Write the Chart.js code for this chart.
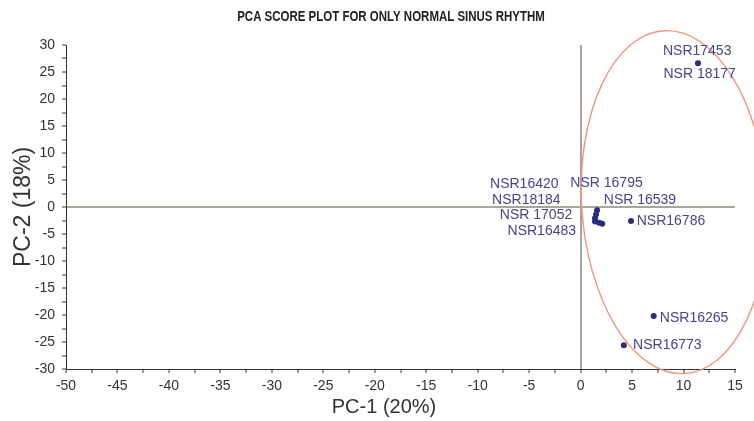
<!DOCTYPE html>
<html>
<head>
<meta charset="utf-8">
<title>PCA score plot</title>
<script src="https://cdn.jsdelivr.net/npm/chart.js@4/dist/chart.umd.min.js"></script>
<style>
    html, body { margin: 0; padding: 0; background: #fff; }
    #pca { display: block; }
</style>
</head>
<body>
<canvas id="pca" width="754" height="421"></canvas>
<script>
/* PCA score plot — normal sinus rhythm records only */

// scores (PC-1, PC-2)
var pc1 = [11.4, 1.6, 1.5, 1.4, 1.4, 1.8, 2.1, 4.9, 7.1, 4.2];
var pc2 = [26.6, -0.6, -1.4, -2.1, -2.7, -2.9, -3.1, -2.6, -20.2, -25.6];

// record labels and where their text starts (data units)
var labelText = ['NSR17453', 'NSR 18177', 'NSR 16795', 'NSR 16539', 'NSR16420',
    'NSR18184', 'NSR 17052', 'NSR16483', 'NSR16786', 'NSR16265', 'NSR16773'];
var labelX = [8.0, 8.05, -1.0, 2.25, -8.8, -8.6, -7.85, -7.1, 5.45, 7.7, 5.1];
var labelY = [28.8, 24.6, 4.5, 1.35, 4.2, 1.35, -1.6, -4.5, -2.6, -20.6, -25.6];

// axis ranges
var xRange = [-50, 15];
var yRange = [-30, 30];

// cluster ellipse: centre, semi-axes (data units), tilt
var ring = { cx: 9.1, cy: 0.9, rx: 9.0, ry: 31.8, tilt: -0.06 };

var FONT = '"Liberation Sans", Arial, sans-serif';
var ink = '#333';

var points = pc1.map(function (x, i) { return { x: x, y: pc2[i] }; });

/* ellipse + point labels + titles, drawn on top without chart-area clipping */
var overlay = {
    id: 'overlay',
    afterDraw: function (chart) {
        var ctx = chart.ctx, xs = chart.scales.x, ys = chart.scales.y;
        ctx.save();

        // ellipse around the group
        var px = xs.getPixelForValue(ring.cx), py = ys.getPixelForValue(ring.cy);
        var rx = Math.abs(xs.getPixelForValue(ring.cx + ring.rx) - px);
        var ry = Math.abs(ys.getPixelForValue(ring.cy + ring.ry) - py);
        ctx.beginPath();
        ctx.ellipse(px, py, rx, ry, ring.tilt, 0, Math.PI * 2);
        ctx.strokeStyle = '#f0957f';
        ctx.lineWidth = 1.4;
        ctx.stroke();

        // record labels
        ctx.fillStyle = '#45458f';
        ctx.font = '14px ' + FONT;
        ctx.textAlign = 'left';
        ctx.textBaseline = 'middle';
        labelText.forEach(function (t, i) {
            ctx.fillText(t, xs.getPixelForValue(labelX[i]), ys.getPixelForValue(labelY[i]));
        });

        // main title (condensed, like the original) and x-axis title
        ctx.fillStyle = '#222';
        ctx.textAlign = 'center';
        ctx.font = 'bold 14px ' + FONT;
        ctx.save();
        ctx.translate(391, 17);
        ctx.scale(0.82, 1);
        ctx.fillText('PCA SCORE PLOT FOR ONLY NORMAL SINUS RHYTHM', 0, 0);
        ctx.restore();
        ctx.fillStyle = ink;
        ctx.font = '20px ' + FONT;
        ctx.fillText('PC-1 (20%)', 384, 407);

        ctx.restore();
    }
};

function zeroLine(c) {
    return c.tick && c.tick.value === 0 ? '#aaa49b' : 'rgba(0,0,0,0)';
}
function majorOnly(v) {
    return v % 5 === 0 ? v : '';
}

new Chart(document.getElementById('pca').getContext('2d'), {
    type: 'scatter',
    data: {
        datasets: [{
            data: points,
            backgroundColor: '#2b2b7e',
            borderWidth: 0,
            pointRadius: 3,
            pointHoverRadius: 3
        }]
    },
    options: {
        responsive: false,
        animation: false,
        events: [],
        layout: { padding: { top: 45, right: 19, left: 0, bottom: 0 } },
        plugins: { legend: { display: false }, tooltip: { enabled: false }, title: { display: false } },
        scales: {
            x: {
                min: xRange[0], max: xRange[1],
                afterFit: function (s) { s.height = 52; },
                border: { color: ink, width: 1 },
                grid: { color: zeroLine, lineWidth: 2, tickColor: ink, tickLength: 4, tickWidth: 1 },
                ticks: {
                    stepSize: 2.5, autoSkip: false, maxRotation: 0, padding: 5,
                    color: ink, font: { family: FONT, size: 14 }, callback: majorOnly
                }
            },
            y: {
                min: yRange[0], max: yRange[1],
                afterFit: function (s) { s.width = 66; },
                border: { color: ink, width: 1 },
                grid: { color: zeroLine, lineWidth: 2, tickColor: ink, tickLength: 4, tickWidth: 1 },
                ticks: {
                    stepSize: 2.5, autoSkip: false, padding: 7,
                    color: ink, font: { family: FONT, size: 14 }, callback: majorOnly
                },
                title: {
                    display: true, text: 'PC-2 (18%)', color: ink,
                    font: { family: FONT, size: 23 }, padding: { top: 10 }
                }
            }
        }
    },
    plugins: [overlay]
});
</script>
</body>
</html>
